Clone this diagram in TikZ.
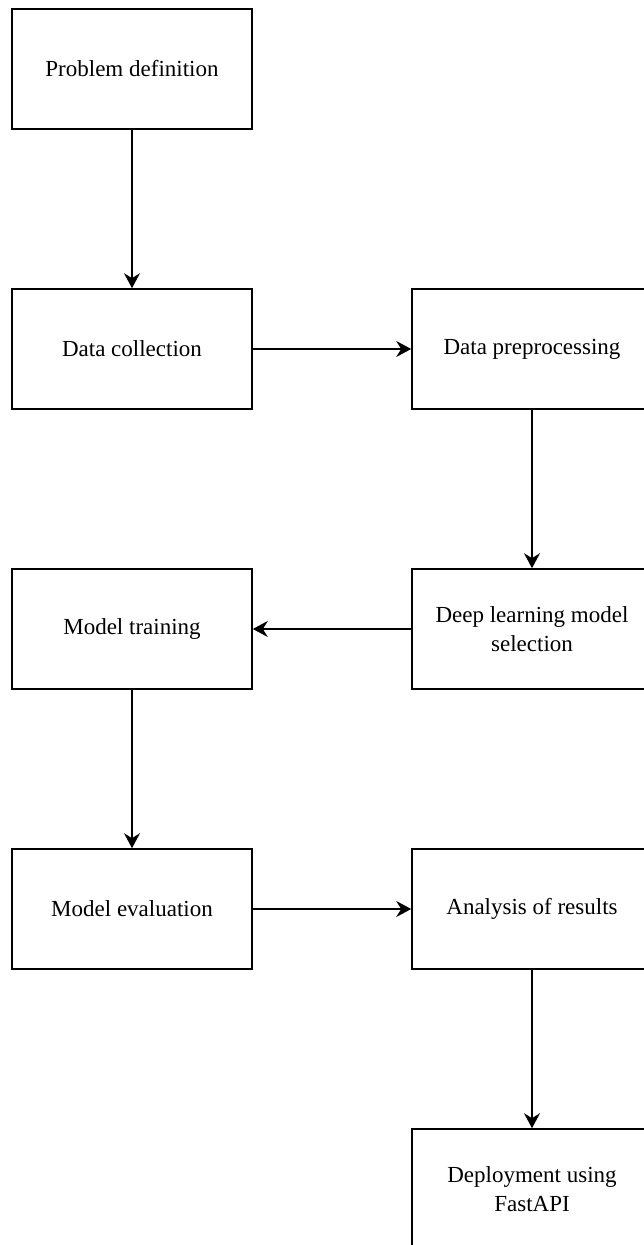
\documentclass[tikz,border=0pt]{standalone}
\usepackage{fontspec}
\setmainfont{Liberation Serif}
\usetikzlibrary{arrows.meta}
\newcommand{\stepfont}{\fontsize{11.5pt}{14.5pt}\selectfont}

\tikzset{
  stepbox/.style={draw, line width=0.8pt, minimum width=120pt, minimum height=60pt,
                  align=center, inner sep=2pt, font=\stepfont},
  flow/.style={line width=0.8pt, -{Stealth[length=7.5pt, width=8pt, inset=2.5pt]}}
}

\begin{document}
\begin{tikzpicture}[x=0.5pt, y=-0.5pt]
                \useasboundingbox (0,0) rectangle (643,1245);

                % First row
                \node[stepbox] (problem) at (132,69) {Problem definition};

                % Second row
                \node[stepbox] (collect) at (132,349) {Data collection};
                \node[stepbox] (prep) at (532,349) {Data preprocessing};

                % Third row
                \node[stepbox] (train) at (132,629) {Model training};
                \node[stepbox] (select) at (532,629) {Deep learning model\\selection};

                % Fourth row
                \node[stepbox] (eval) at (132,909) {Model evaluation};
                \node[stepbox] (results) at (532,909) {Analysis of results};

                % Last row
                \node[stepbox] (deploy) at (532,1189) {Deployment using\\FastAPI};

                % Arrows
                \draw[flow] (problem) -- (collect);
                \draw[flow] (collect) -- (prep);
                \draw[flow] (prep) -- (select);
                \draw[flow] (select) -- (train);
                \draw[flow] (train) -- (eval);
                \draw[flow] (eval) -- (results);
                \draw[flow] (results) -- (deploy);
            \end{tikzpicture}
\end{document}
